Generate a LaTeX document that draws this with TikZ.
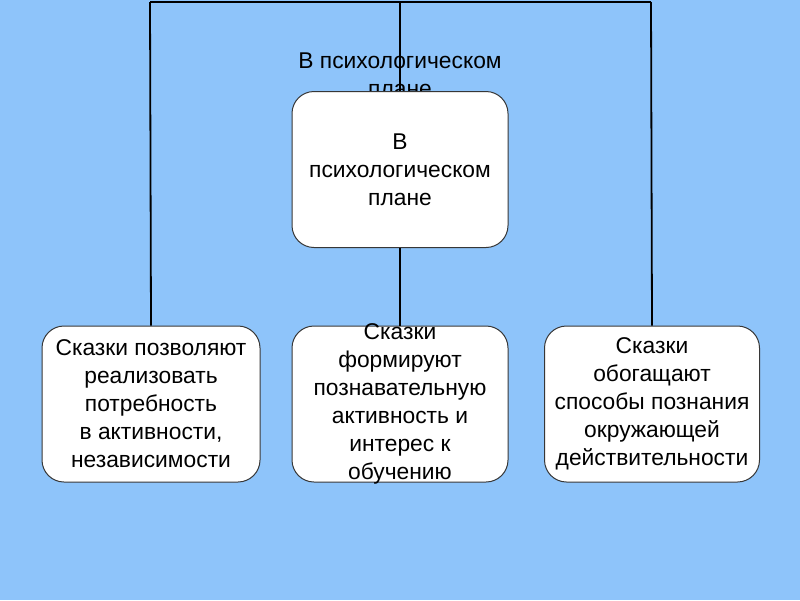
\documentclass[tikz,border=0pt]{standalone}
\usepackage{fontspec}
\setmainfont{Liberation Sans}
\usetikzlibrary{positioning}
\definecolor{slidebg}{RGB}{142,196,250}
\definecolor{boxedge}{RGB}{55,55,55}
\tikzset{
  topicbox/.style={draw=boxedge, line width=1pt, fill=white, rounded corners=22pt,
    minimum width=216pt, minimum height=156pt, inner sep=0pt},
  boxtext/.style={align=center, font=\fontsize{22.8}{28}\selectfont, inner sep=0pt},
  link/.style={line width=1.8pt, black}
}
\begin{document}
\begin{tikzpicture}[x=1pt, y=-1pt]
\fill[slidebg] (0,0) rectangle (800,600);
\useasboundingbox (0,0) rectangle (800,600);
% caption behind the top box
\node[boxtext] (title) at (400,75) {В психологическом\\плане};
\coordinate (topL) at (150,2);
\coordinate (topM) at (400,2);
\coordinate (topR) at (651,2);
% boxes
\node[topicbox] (psy) at (400,169.5) {};
\node[topicbox, minimum width=218pt] (left) at (151,404) {};
\node[topicbox] (mid) at (400,404) {};
\node[topicbox, minimum width=215pt] (right) at (652,404) {};
% connectors
\draw[link] (topL) -- (topR);
\draw[link] (topL) -- (left.north);
\draw[link] (topR) -- (right.north);
\draw[link] (topM) -- (psy.north);
\draw[link] (psy.south) -- (mid.north);
% texts
\node[boxtext] at (psy) {В\\психологическом\\плане};
\node[boxtext] at (left) {Сказки позволяют\\реализовать\\потребность\\в активности,\\независимости};
\node[boxtext] at (mid) {Сказки\\формируют\\познавательную\\активность и\\интерес к\\обучению};
\node[boxtext] at (right) {Сказки\\обогащают\\способы познания\\окружающей\\действительности};
\end{tikzpicture}
\end{document}
